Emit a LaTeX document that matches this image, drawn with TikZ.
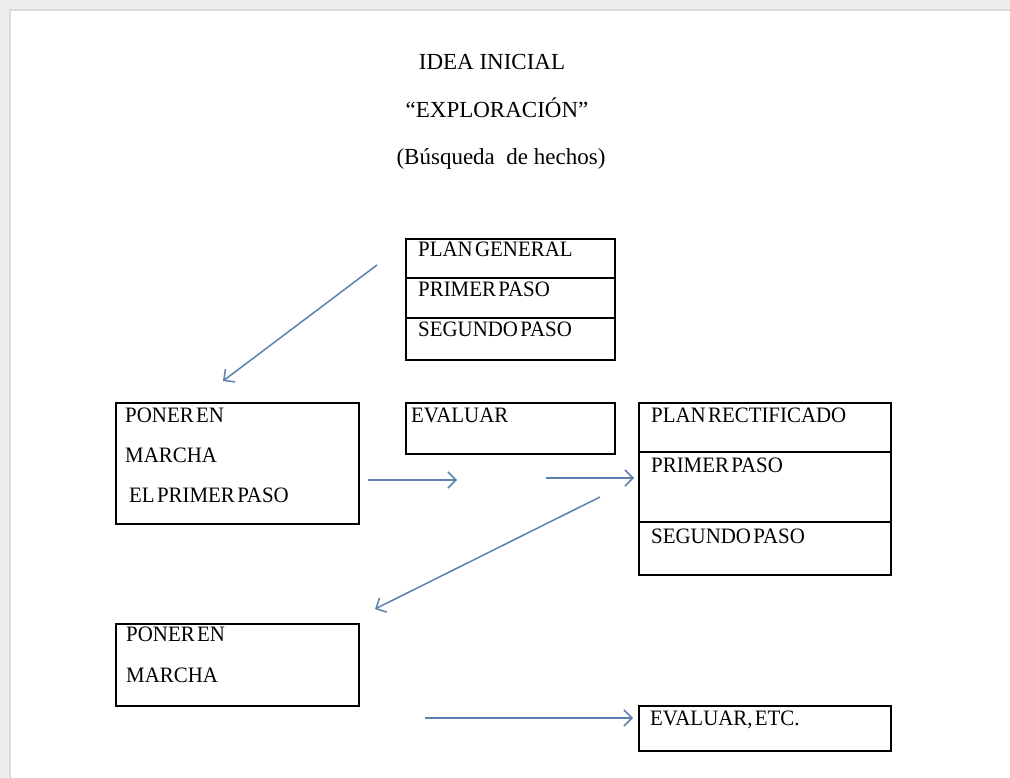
\documentclass[tikz,border=0pt]{standalone}
\usepackage{fontspec}
\setmainfont{Liberation Serif}
\newfontfamily\boxfont[FakeStretch=0.95,WordSpace=0.45]{Liberation Serif}
\usetikzlibrary{arrows.meta}
\definecolor{arrowblue}{RGB}{92,128,176}
\begin{document}
\begin{tikzpicture}[x=1pt,y=-1pt,
  box/.style={draw=black, line width=1.7pt, inner sep=0pt, anchor=north west},
  divider/.style={draw=black, line width=1.7pt},
  lbl/.style={font=\boxfont\fontsize{22}{25}\selectfont, anchor=base west, inner sep=0pt},
  ttl/.style={font=\fontsize{23}{27}\selectfont, anchor=base, inner sep=0pt},
  flow/.style={draw=arrowblue, line width=1.5pt, -{Straight Barb[length=8pt,width=16pt]}}]
\useasboundingbox (0,0) rectangle (1010,778);
% screenshot frame
\fill[black!7] (0,0) rectangle (1010,10);
\fill[black!7] (0,0) rectangle (10,778);
\draw[black!14, line width=1.5pt] (10,778) -- (10,10) -- (1010,10);

% titles
\node[ttl] (t1) at (492,70) {IDEA INICIAL};
\node[ttl] (t2) at (497,118) {“EXPLORACIÓN”};
\node[ttl] (t3) at (501,165) {(Búsqueda~ de hechos)};

% plan general
\node[box, minimum width=209pt, minimum height=121pt] (plan) at (405,238) {};
\draw[divider] (405,278) -- (614,278);
\draw[divider] (405,318) -- (614,318);
\node[lbl] (p1) at (418,257) {PLAN GENERAL};
\node[lbl] (p2) at (418,297) {PRIMER PASO};
\node[lbl] (p3) at (418,337) {SEGUNDO PASO};

% poner en marcha 1
\node[box, minimum width=243pt, minimum height=121pt] (pm1) at (115,402) {};
\node[lbl] (pm1a) at (125,422) {PONER EN};
\node[lbl] (pm1b) at (125,462) {MARCHA};
\node[lbl] (pm1c) at (129,502) {EL PRIMER PASO};

% evaluar
\node[box, minimum width=209pt, minimum height=51pt] (ev) at (405,402) {};
\node[lbl] (eva) at (411,422) {EVALUAR};

% plan rectificado
\node[box, minimum width=252pt, minimum height=172pt] (pr) at (638,402) {};
\draw[divider] (638,452) -- (890,452);
\draw[divider] (638,522) -- (890,522);
\node[lbl] (pr1) at (651,422) {PLAN RECTIFICADO};
\node[lbl] (pr2) at (651,472) {PRIMER PASO};
\node[lbl] (pr3) at (651,543) {SEGUNDO PASO};

% poner en marcha 2
\node[box, minimum width=243pt, minimum height=82pt] (pm2) at (115,623) {};
\node[lbl] (pm2a) at (126,641) {PONER EN};
\node[lbl] (pm2b) at (126,682) {MARCHA};

% evaluar etc
\node[box, minimum width=252pt, minimum height=45pt] (ee) at (638,705) {};
\node[lbl] (eea) at (650,725) {EVALUAR, ETC.};

% arrow end points
\coordinate (a1s) at (377,265); \coordinate (a1e) at (223,381);
\coordinate (a2s) at (368,480); \coordinate (a2e) at (457,480);
\coordinate (a3s) at (546,478); \coordinate (a3e) at (634,478);
\coordinate (a4s) at (600,497); \coordinate (a4e) at (375,609);
\coordinate (a5s) at (425,718); \coordinate (a5e) at (633,718);
\draw[flow] (a1s) -- (a1e);
\draw[flow] (a2s) -- (a2e);
\draw[flow] (a3s) -- (a3e);
\draw[flow] (a4s) -- (a4e);
\draw[flow] (a5s) -- (a5e);
\end{tikzpicture}
\end{document}
